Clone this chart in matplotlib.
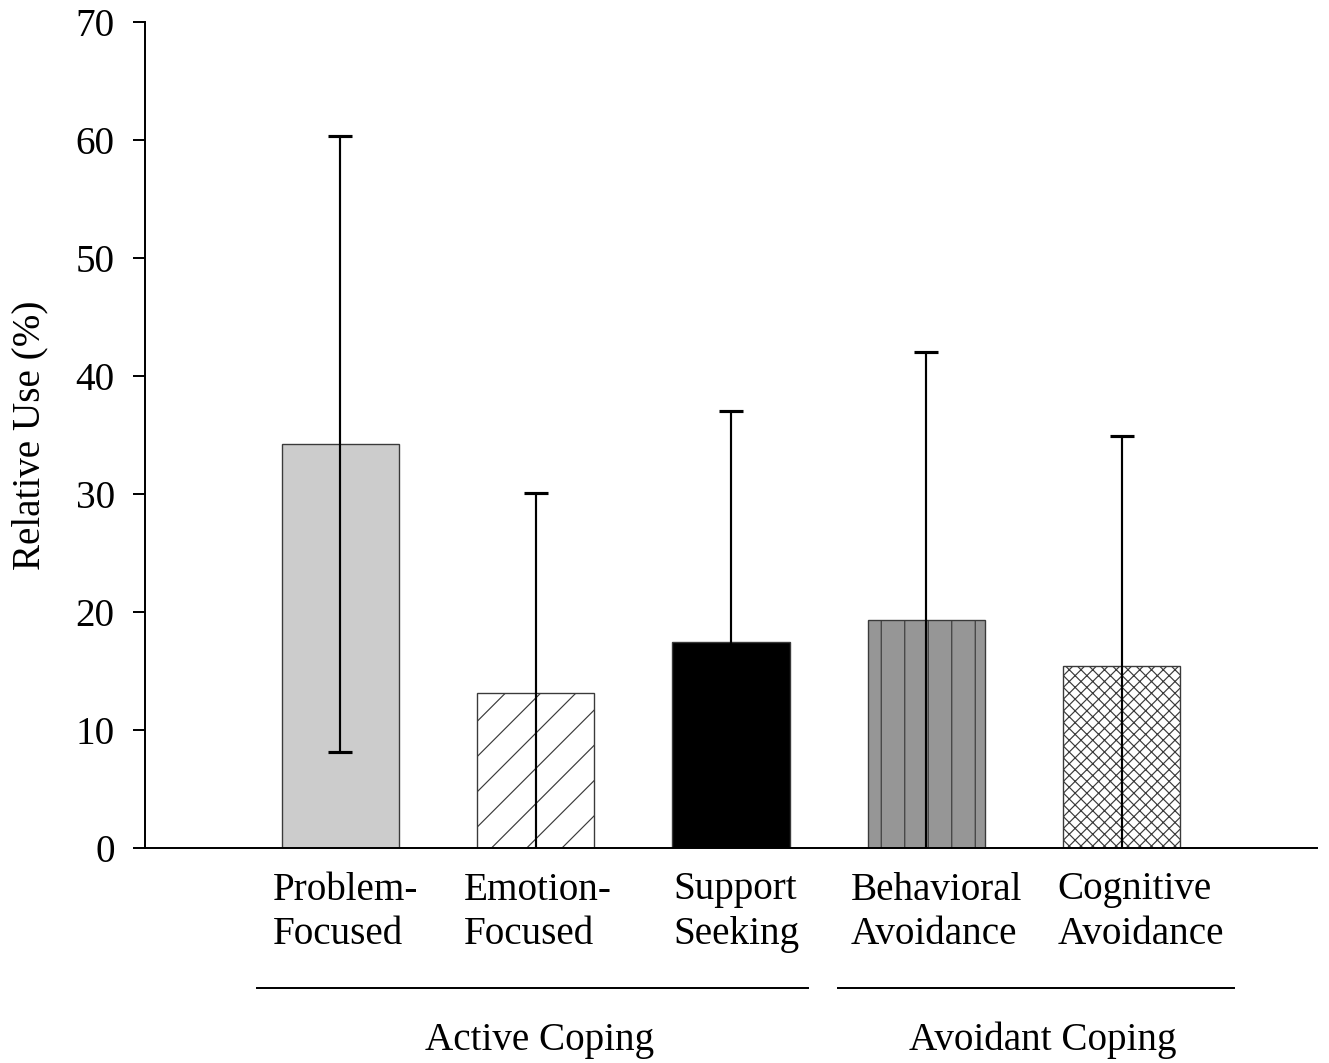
import warnings
import numpy as np
import matplotlib
matplotlib.use("Agg")
import matplotlib.pyplot as plt
import matplotlib.hatch as mhatch
from matplotlib.transforms import blended_transform_factory, ScaledTranslation

warnings.filterwarnings("ignore")

# ---------------- data ----------------
categories = ["Problem-\nFocused", "Emotion-\nFocused", "Support\nSeeking",
              "Behavioral\nAvoidance", "Cognitive\nAvoidance"]
means = [34.2, 13.1, 17.5, 19.3, 15.4]
sds = [26.1, 17.0, 19.5, 22.7, 19.5]
groups = ["Active Coping", "Avoidant Coping"]
yticks = [0, 10, 20, 30, 40, 50, 60, 70]

# ---------------- styles ----------------
facecolors = ["#cccccc", "white", "black", "#969696", "white"]
hatches = [None, "d", None, "|", "xxxx"]
label_offsets_px = [5, 2, 5, 10, 19]


# diagonal hatch with a custom spacing
class SparseNorthEastHatch(mhatch.NorthEastHatch):
    def __init__(self, hatch, density):
        self.num_lines = int(hatch.count('d') * 8)
        self.num_vertices = (self.num_lines + 1) * 2 if self.num_lines else 0


mhatch._hatch_types.append(SparseNorthEastHatch)

DPI = 141
plt.rcParams['font.family'] = ['Liberation Serif', 'DejaVu Serif']
plt.rcParams['hatch.linewidth'] = 0.6
plt.rcParams['font.size'] = 20

fig = plt.figure(figsize=(1329 / DPI, 1063 / DPI), dpi=DPI)
ax = fig.add_axes([145 / 1329, 1 - 848 / 1063, (1317 - 145) / 1329, (848 - 22) / 1063])

x = np.arange(1, len(categories) + 1)
for xi, m, fc, h in zip(x, means, facecolors, hatches):
    ax.bar(xi, m, width=0.6, color=fc, edgecolor="#3a3a3a", linewidth=0.7,
           hatch=h, zorder=2)

ax.errorbar(x, means, yerr=sds, fmt="none", ecolor="black", elinewidth=1.1,
            capsize=6.1, capthick=1.6, zorder=3)

ax.set_xlim(0, 6)
ax.set_ylim(0, 70)
ax.set_yticks(yticks)
ax.set_xticks(x)
ax.set_xticklabels(categories, multialignment="left", linespacing=1.27)
ax.tick_params(axis="x", length=0, pad=12)
ax.tick_params(axis="y", direction="out", length=6, width=1, pad=9.5)
for lbl, dx in zip(ax.get_xticklabels(), label_offsets_px):
    lbl.set_transform(lbl.get_transform() +
                      ScaledTranslation(dx / DPI, 0, fig.dpi_scale_trans))
ax.spines["top"].set_visible(False)
ax.spines["right"].set_visible(False)
ax.spines["left"].set_linewidth(1)
ax.spines["bottom"].set_linewidth(1)
ax.set_ylabel("Relative Use (%)", labelpad=14)

# group brackets
trans = blended_transform_factory(ax.transData, ax.transAxes)
group_spans = [(0.573, 3.394), (3.548, 5.575)]
group_label_x = [2.022, 4.595]
for (x0, x1), gx, g in zip(group_spans, group_label_x, groups):
    ax.plot([x0, x1], [-0.1695, -0.1695], color="black", lw=1.0,
            transform=trans, clip_on=False)
    ax.text(gx, -0.233, g, transform=trans, ha="center", va="center")

fig.savefig("out.png", dpi=DPI)
